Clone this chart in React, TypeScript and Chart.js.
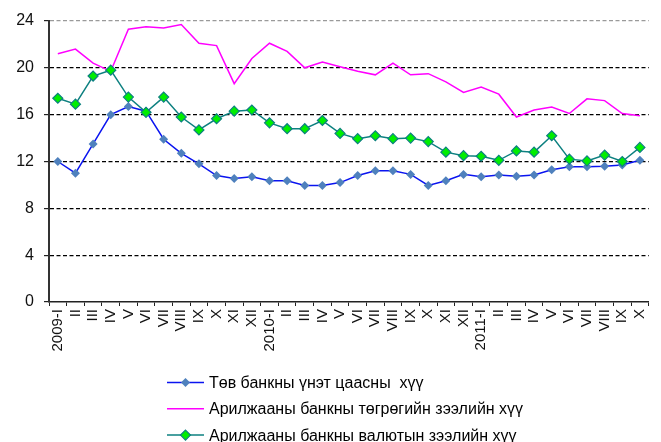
import React, { useEffect, useRef } from "react";
import { Chart, registerables } from "chart.js";

Chart.register(...registerables);

const months = ["I", "II", "III", "IV", "V", "VI", "VII", "VIII", "IX", "X", "XI", "XII"];
const categories: string[] = [
  ...months.map((m, i) => (i === 0 ? "2009-" + m : m)),
  ...months.map((m, i) => (i === 0 ? "2010-" + m : m)),
  ...months.slice(0, 10).map((m, i) => (i === 0 ? "2011-" + m : m)),
];

const centralBankBills = [
  12.0, 11.0, 13.5, 16.0, 16.7, 16.3, 13.9, 12.7, 11.8, 10.8, 10.55, 10.7,
  10.35, 10.35, 9.95, 9.95, 10.2, 10.8, 11.2, 11.2, 10.9, 9.95, 10.35, 10.9,
  10.7, 10.85, 10.75, 10.85, 11.3, 11.55, 11.55, 11.6, 11.7, 12.1,
];
const tugrikLoans = [
  21.2, 21.6, 20.4, 19.7, 23.3, 23.5, 23.4, 23.7, 22.1, 21.9, 18.65, 20.8,
  22.1, 21.4, 20.0, 20.5, 20.1, 19.7, 19.4, 20.4, 19.4, 19.5, 18.8, 17.9,
  18.35, 17.75, 15.8, 16.4, 16.65, 16.1, 17.35, 17.2, 16.1, 15.9,
];
const fxLoans = [
  17.4, 16.9, 19.3, 19.8, 17.5, 16.2, 17.5, 15.8, 14.7, 15.65, 16.3, 16.4,
  15.3, 14.8, 14.8, 15.5, 14.4, 13.95, 14.2, 13.95, 14.0, 13.7, 12.8, 12.5,
  12.45, 12.1, 12.9, 12.8, 14.2, 12.2, 12.05, 12.55, 12.0, 13.2,
];

const seriesNames = [
  "Төв банкны үнэт цаасны  хүү",
  "Арилжааны банкны төгрөгийн зээлийн хүү",
  "Арилжааны банкны валютын зээлийн хүү",
];

const yTicks = [0, 4, 8, 12, 16, 20, 24];

const FONT = "'Liberation Sans', Arial, sans-serif";

const legendPlugin = {
  id: "stackedLegend",
  afterDraw(chart: any) {
    const ctx = chart.ctx;
    const ds = chart.data.datasets;
    const x0 = 167;
    const x1 = 204;
    const tx = 209;
    ctx.save();
    ds.forEach((d: any, i: number) => {
      const y = 382.5 + 26.3 * i;
      ctx.beginPath();
      ctx.strokeStyle = d.borderColor;
      ctx.lineWidth = 1.5;
      ctx.moveTo(x0, y);
      ctx.lineTo(x1, y);
      ctx.stroke();
      if (d.pointRadius > 0) {
        const r = d.pointRadius;
        const cx = (x0 + x1) / 2;
        ctx.beginPath();
        ctx.moveTo(cx, y - r);
        ctx.lineTo(cx + r, y);
        ctx.lineTo(cx, y + r);
        ctx.lineTo(cx - r, y);
        ctx.closePath();
        ctx.fillStyle = d.pointBackgroundColor;
        ctx.fill();
        if (d.pointBorderWidth) {
          ctx.lineWidth = d.pointBorderWidth;
          ctx.strokeStyle = d.pointBorderColor;
          ctx.stroke();
        }
      }
      ctx.fillStyle = "#000";
      ctx.font = "16px " + FONT;
      ctx.textBaseline = "middle";
      ctx.textAlign = "left";
      ctx.fillText(d.label, tx, y + 1);
    });
    ctx.restore();
  },
};

export default function App() {
  const ref = useRef<HTMLCanvasElement | null>(null);

  useEffect(() => {
    if (!ref.current) return;
    const chart = new Chart(ref.current, {
      type: "line",
      data: {
        labels: categories,
        datasets: [
          {
            label: seriesNames[0],
            data: centralBankBills,
            borderColor: "#0a14f0",
            borderWidth: 1.5,
            pointStyle: "rectRot",
            pointRadius: 4.5,
            pointBackgroundColor: "#4f81bd",
            pointBorderColor: "#4f81bd",
            pointBorderWidth: 0,
            tension: 0,
            order: 2,
          },
          {
            label: seriesNames[1],
            data: tugrikLoans,
            borderColor: "#ff00ff",
            borderWidth: 1.5,
            pointRadius: 0,
            tension: 0,
            order: 3,
          },
          {
            label: seriesNames[2],
            data: fxLoans,
            borderColor: "#0d8080",
            borderWidth: 1.5,
            pointStyle: "rectRot",
            pointRadius: 5,
            pointBackgroundColor: "#00ee00",
            pointBorderColor: "#0d8080",
            pointBorderWidth: 1.2,
            tension: 0,
            order: 1,
          },
        ],
      },
      options: {
        animation: false,
        responsive: false,
        events: [],
        layout: { padding: { left: 0, right: 3, top: 21, bottom: 80 } },
        plugins: {
          legend: { display: false },
          tooltip: { enabled: false },
          title: { display: false },
        },
        scales: {
          x: {
            type: "category",
            offset: true,
            afterFit: (s: any) => {
              s.height = 60;
            },
            grid: {
              offset: true,
              drawOnChartArea: false,
              drawTicks: true,
              tickLength: 4,
              tickColor: "#222",
              tickWidth: 1,
            },
            border: { display: true, color: "#222", width: 1.5 },
            ticks: {
              autoSkip: false,
              maxRotation: 90,
              minRotation: 90,
              padding: 3,
              color: "#111",
              font: { family: FONT, size: 15 },
            },
          },
          y: {
            min: 0,
            max: 24,
            afterFit: (s: any) => {
              s.width = 49;
            },
            afterBuildTicks: (s: any) => {
              s.ticks = yTicks.map((v) => ({ value: v }));
            },
            grid: {
              color: (c: any) =>
                c.tick && c.tick.value === 24
                  ? "#9a9a9a"
                  : c.tick && c.tick.value === 0
                  ? "rgba(0,0,0,0)"
                  : "#000",
              lineWidth: 1.2,
              drawTicks: true,
              tickLength: 5,
              tickColor: "#222",
              tickWidth: 1.2,
            },
            border: { display: true, color: "#333", width: 2, dash: [4, 2.5] },
            ticks: {
              padding: 10,
              color: "#111",
              font: { family: FONT, size: 16 },
            },
          },
        },
      },
      plugins: [legendPlugin],
    });
    return () => chart.destroy();
  }, []);

  return (
    <div style={{ position: "absolute", left: 0, top: 0, width: 661, height: 442, background: "#fff" }}>
      <canvas ref={ref} width={661} height={442} style={{ display: "block", width: 661, height: 442 }} />
    </div>
  );
}
